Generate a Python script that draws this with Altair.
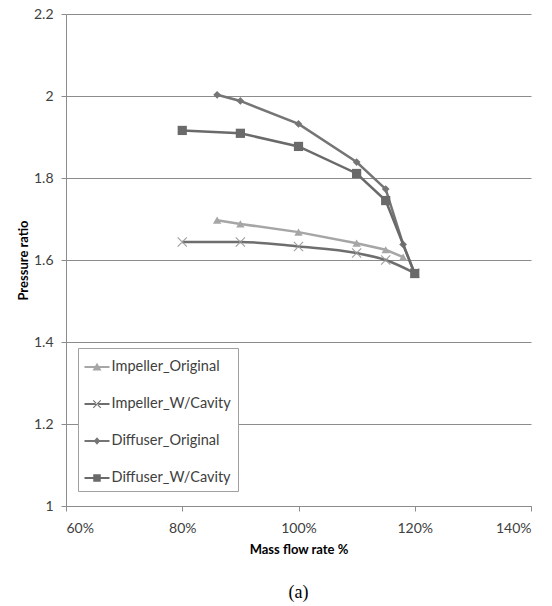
import altair as alt
import pandas as pd

# ---- data ----
series_names = ["Impeller_Original", "Impeller_W/Cavity", "Diffuser_Original", "Diffuser_W/Cavity"]

imp_orig_flow = [86, 90, 100, 110, 115, 118]
imp_orig_ratio = [1.697, 1.688, 1.668, 1.641, 1.625, 1.607]

imp_cav_flow = [80, 90, 100, 110, 115, 120]
imp_cav_ratio = [1.644, 1.644, 1.633, 1.617, 1.600, 1.568]

dif_orig_flow = [86, 90, 100, 110, 115, 118, 120]
dif_orig_ratio = [2.003, 1.988, 1.932, 1.839, 1.773, 1.638, 1.566]

dif_cav_flow = [80, 90, 100, 110, 115, 120]
dif_cav_ratio = [1.916, 1.909, 1.877, 1.811, 1.745, 1.567]

x_ticks = [60, 80, 100, 120, 140]
y_ticks = [1.0, 1.2, 1.4, 1.6, 1.8, 2.0, 2.2]

flows = [imp_orig_flow, imp_cav_flow, dif_orig_flow, dif_cav_flow]
ratios = [imp_orig_ratio, imp_cav_ratio, dif_orig_ratio, dif_cav_ratio]

rows = []
for name, fx, ry in zip(series_names, flows, ratios):
    for f, r in zip(fx, ry):
        rows.append({"series": name, "flow": f, "ratio": r})
df = pd.DataFrame(rows)

# ---- styles ----
line_colors = ["#a6a6a6", "#6e6e6e", "#757575", "#6a6a6a"]
marker_colors = ["#a6a6a6", "#a0a0a0", "#757575", "#6a6a6a"]
interps = ["linear", "monotone", "linear", "linear"]
x_path = ("M-1,-0.84L0.84,1L1,0.84L-0.84,-1Z "
          "M-1,0.84L0.84,-1L1,-0.84L-0.84,1Z")
marker_shapes = ["triangle-up", x_path, "diamond", "square"]
marker_sizes = [70, 100, 60, 85]

bar = "M-1,-0.08H1V0.08H-1Z "
legend_paths = [
    bar + "M-0.36,0.28L0,-0.34L0.36,0.28Z",
    bar + "M-0.33,-0.27L0.27,0.33L0.33,0.27L-0.27,-0.33Z M-0.33,0.27L0.27,-0.33L0.33,-0.27L-0.27,0.33Z",
    bar + "M0,-0.3L0.26,0L0,0.3L-0.26,0Z",
    bar + "M-0.3,-0.3H0.3V0.3H-0.3Z",
]
legend_colors = ["#a6a6a6", "#6e6e6e", "#757575", "#6a6a6a"]

FONT = "Lato"
GRID = "#8c8c8c"

x_enc = alt.X(
    "flow:Q",
    scale=alt.Scale(domain=[60, 140], nice=False, zero=False),
    axis=alt.Axis(
        values=x_ticks, labelExpr="datum.value + '%'", grid=False,
        domainColor=GRID, tickColor=GRID, tickSize=5, labelPadding=10,
        labelFont=FONT, labelFontSize=14, labelColor="#404040",
        title="Mass flow rate %", titleFont=FONT, titleFontSize=13,
        titleFontWeight="bold", titleColor="#000000", titlePadding=8,
    ),
)
y_enc = alt.Y(
    "ratio:Q",
    scale=alt.Scale(domain=[1.0, 2.2], nice=False, zero=False),
    axis=alt.Axis(
        values=y_ticks, format="~g", grid=True, gridColor=GRID,
        domainColor=GRID, tickColor=GRID, tickSize=5, labelPadding=8,
        labelFont=FONT, labelFontSize=14, labelColor="#404040",
        title="Pressure ratio", titleFont=FONT, titleFontSize=13,
        titleFontWeight="bold", titleColor="#000000", titlePadding=3,
    ),
)

base = alt.Chart(df)
layers = []
for i, name in enumerate(series_names):
    sub = base.transform_filter(alt.datum.series == name)
    layers.append(
        sub.mark_line(color=line_colors[i], strokeWidth=2.5, interpolate=interps[i]).encode(x=x_enc, y=y_enc)
    )
    layers.append(
        sub.mark_point(filled=True, opacity=1, color=marker_colors[i], shape=marker_shapes[i],
                       size=marker_sizes[i]).encode(x=x_enc, y=y_enc)
    )

legend = alt.Legend(
    title=None, orient="none", legendX=12, legendY=334, padding=6.5, rowPadding=18,
    symbolSize=625, labelFont=FONT, labelFontSize=14.5, labelColor="#404040",
    strokeColor="#a0a0a0", fillColor="white", labelOffset=2, symbolStrokeWidth=0,
    labelExpr="datum.label + '\u00a0\u00a0'",
)
legend_layer = base.transform_filter("false").mark_point(filled=True, opacity=1, size=625).encode(
    x=x_enc, y=y_enc,
    shape=alt.Shape("series:N", scale=alt.Scale(domain=series_names, range=legend_paths), legend=legend),
    color=alt.Color("series:N", scale=alt.Scale(domain=series_names, range=legend_colors), legend=legend),
)
layers.append(legend_layer)

chart = alt.layer(*layers).properties(
    width=465, height=492,
    padding={"left": 66, "top": 14, "right": 21, "bottom": 100},
    autosize=alt.AutoSizeParams(type="none"),
    title=alt.TitleParams("(a)", orient="bottom", anchor="middle", font="Liberation Serif",
                          fontSize=18, fontWeight="normal", color="#000000", offset=28),
    background="white",
).configure_view(stroke=None)

chart.save("out.html", embed_options={"renderer": "svg", "actions": False})
